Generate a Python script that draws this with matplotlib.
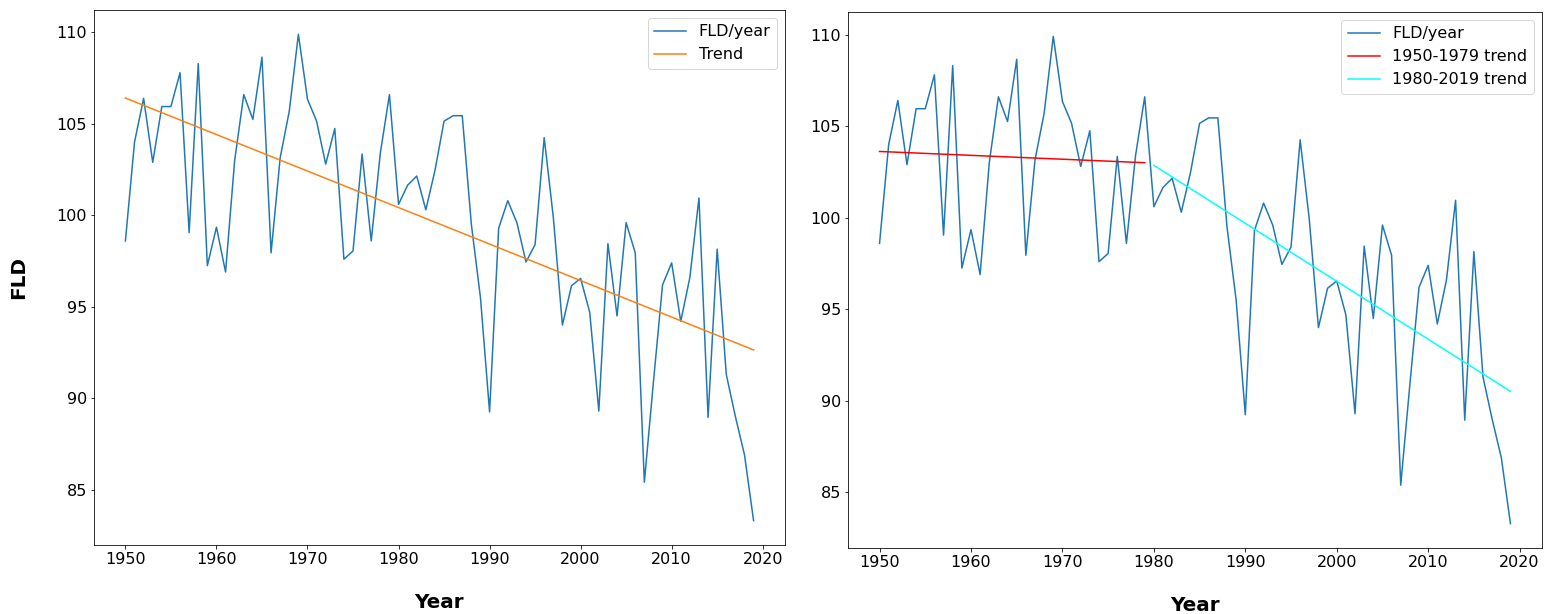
import numpy as np
import matplotlib
matplotlib.use("Agg")
import matplotlib.pyplot as plt

# FLD per year
years = np.arange(1950, 2020)
fld = [98.6, 104.0, 106.4, 102.9, 105.95, 105.95, 107.8, 99.05, 108.3, 97.25,
       99.35, 96.9, 103.0, 106.6, 105.25, 108.65, 97.95, 103.15, 105.7, 109.9,
       106.35, 105.15, 102.8, 104.75, 97.6, 98.05, 103.35, 98.6, 103.4, 106.6,
       100.6, 101.65, 102.15, 100.3, 102.45, 105.15, 105.45, 105.45, 99.5, 95.5,
       89.25, 99.3, 100.8, 99.6, 97.45, 98.4, 104.25, 99.9, 94.0, 96.15,
       96.55, 94.7, 89.3, 98.45, 94.5, 99.6, 97.95, 85.4, 90.9, 96.2,
       97.4, 94.2, 96.6, 100.95, 88.95, 98.15, 91.3, 89.0, 86.9, 83.3]
fld = np.array(fld)

split_year = 1980

# Linear trends
p_all = np.polyfit(years, fld, 1)
early = years < split_year
late = years >= split_year
p_early = np.polyfit(years[early], fld[early], 1)
p_late = np.polyfit(years[late], fld[late], 1)

W, H = 1547, 614
fig = plt.figure(figsize=(W / 72, H / 72), dpi=72)

# axes placed in pixel coords: left, top, right, bottom
def px_axes(l, t, r, b):
    return fig.add_axes([l / W, 1 - b / H, (r - l) / W, (b - t) / H])

ax1 = px_axes(94, 10, 785, 545)
ax2 = px_axes(848, 12, 1542, 548)

# Left: whole-period trend
ax1.plot(years, fld, color="C0", linewidth=1.5, label="FLD/year")
ax1.plot(years, np.polyval(p_all, years), color="C1", linewidth=1.5, label="Trend")
ax1.set_ylabel("FLD", fontsize=20, fontweight="bold", labelpad=28)
ax1.set_xlabel("Year", fontsize=20, fontweight="bold", labelpad=26)
ax1.legend(loc="upper right", fontsize=16)

# Right: split trends
ax2.plot(years, fld, color="C0", linewidth=1.5, label="FLD/year")
ax2.plot(years[early], np.polyval(p_early, years[early]), color="red",
         linewidth=1.5, label="1950-1979 trend")
ax2.plot(years[late], np.polyval(p_late, years[late]), color="cyan",
         linewidth=1.5, label="1980-2019 trend")
ax2.set_xlabel("Year", fontsize=20, fontweight="bold", labelpad=26)
ax2.legend(loc="upper right", fontsize=16)

for ax in (ax1, ax2):
    ax.set_yticks([85, 90, 95, 100, 105, 110])
    ax.set_xticks(range(1950, 2021, 10))
    ax.tick_params(labelsize=16)

fig.savefig("out.png", dpi=72)
